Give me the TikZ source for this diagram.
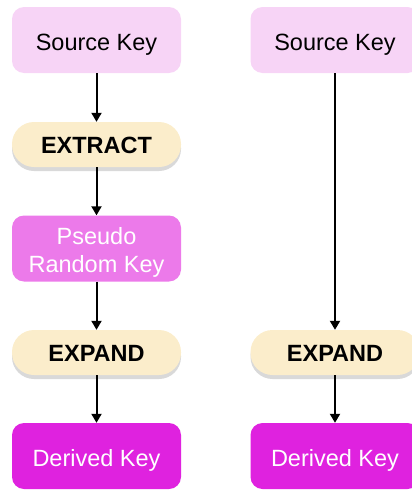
\documentclass[tikz,border=0pt]{standalone}
\usepackage{fontspec}
\setmainfont{Liberation Sans}
\usetikzlibrary{arrows.meta,shadows}
\definecolor{srcpink}{HTML}{F7D4F6}
\definecolor{stepcream}{HTML}{FBEDCB}
\definecolor{prkpink}{HTML}{EC7AEA}
\definecolor{derivmag}{HTML}{DF22DF}
\begin{document}
\begin{tikzpicture}[x=1pt,y=1pt,
    font=\fontsize{23.5}{28}\selectfont,
    keybox/.style={rounded corners=12pt,minimum width=169pt,minimum height=66pt,
        inner sep=0pt,align=center,text height=21pt,text depth=0pt},
    srckey/.style={keybox,fill=srcpink,text=black},
    prkey/.style={keybox,fill=prkpink,text=white,text height=47pt},
    dkey/.style={keybox,fill=derivmag,text=white},
    stage/.style={rounded corners=22pt,minimum width=169pt,minimum height=45pt,
        inner sep=0pt,fill=stepcream,text height=17pt,text depth=0pt,
        font=\fontsize{23.5}{28}\selectfont\bfseries,
        drop shadow={shadow xshift=0pt,shadow yshift=-4pt,opacity=0.25,fill=black!60}},
    flow/.style={line width=2pt,-{Triangle[length=9pt,width=10pt]}}]
    \useasboundingbox (0,0) rectangle (412,-490);
    % HKDF: extract then expand
    \node[srckey] (src) at (96.5,-40) {Source Key};
    \node[stage] (extract) at (96.5,-144.5) {EXTRACT};
    \node[prkey] (prk) at (96.5,-248.5) {Pseudo\\Random Key};
    \node[stage] (expand) at (96.5,-352.5) {EXPAND};
    \node[dkey] (okm) at (96.5,-456) {Derived Key};
    \draw[flow] (src) -- (extract);
    \draw[flow] (extract) -- (prk);
    \draw[flow] (prk) -- (expand);
    \draw[flow] (expand) -- (okm);
    % expand only
    \node[srckey] (src2) at (335,-40) {Source Key};
    \node[stage] (expand2) at (335,-352.5) {EXPAND};
    \node[dkey] (okm2) at (335,-456) {Derived Key};
    \draw[flow] (src2) -- (expand2);
    \draw[flow] (expand2) -- (okm2);
\end{tikzpicture}
\end{document}
